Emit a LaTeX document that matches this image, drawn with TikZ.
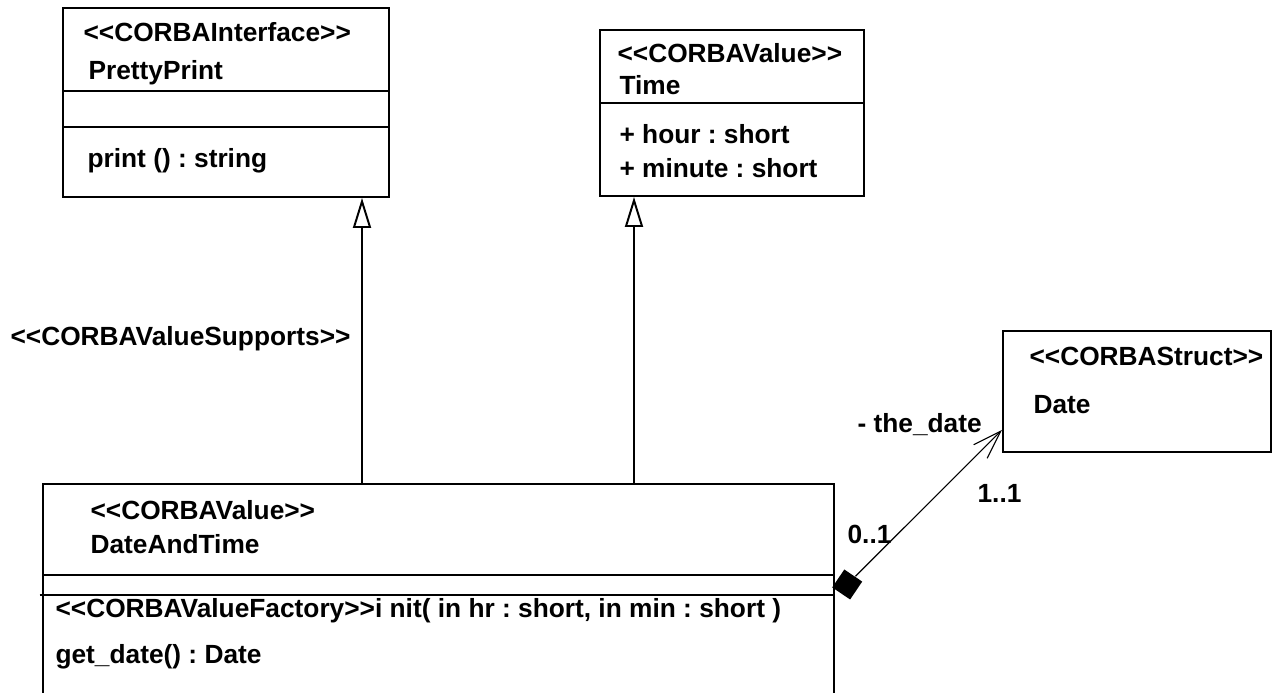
\documentclass[tikz,border=0pt]{standalone}
\usepackage{fontspec}
\newfontfamily\umlfont{Liberation Sans}
\usetikzlibrary{arrows.meta, positioning}
\frenchspacing

\begin{document}
\begin{tikzpicture}[
    cls/.style={draw, rectangle, line width=0.7pt, inner sep=0pt, fill=white},
    sep/.style={line width=0.7pt},
    txt/.style={anchor=base west, inner sep=0pt, font=\umlfont\bfseries\fontsize{9.35pt}{11pt}\selectfont},
    gen/.style={line width=0.7pt, -{Triangle[open, length=0.375cm, width=0.225cm, fill=white]}},
    comp/.style={rectangle, fill=black, inner sep=0pt, minimum size=0.27cm, rotate=-34},
    assoc/.style={thin, -{Straight Barb[length=0.36cm, width=0.24cm]}},
]
\useasboundingbox (0,0) rectangle (16,8.65);

% Class boxes
\node[cls, minimum width=4.075cm, minimum height=2.3625cm] (PP) at (2.825,7.36875) {};
\node[cls, minimum width=3.3cm, minimum height=2.075cm] (TV) at (9.15,7.2375) {};
\node[cls, minimum width=3.35cm, minimum height=1.5125cm] (DS) at (14.2125,3.75625) {};
\node[cls, minimum width=9.8875cm, minimum height=2.625cm] (DT) at (5.48125,1.2875) {};

% Compartments
\draw[sep] ([yshift=-1.05cm]PP.north west) -- ([yshift=-1.05cm]PP.north east);
\draw[sep] ([yshift=-1.5cm]PP.north west) -- ([yshift=-1.5cm]PP.north east);
\draw[sep] ([yshift=-0.925cm]TV.north west) -- ([yshift=-0.925cm]TV.north east);
\draw[sep] ([yshift=-1.15cm]DT.north west) -- ([yshift=-1.15cm]DT.north east);
\draw[sep] ([xshift=-0.03cm,yshift=-1.4cm]DT.north west) -- ([yshift=-1.4cm]DT.north east);

% PrettyPrint
\node[txt] (PPst) at (1.0375,8.1375) {<<CORBAInterface>>};
\node[txt] (PPname) at (1.1,7.6625) {PrettyPrint};
\node[txt] (PPop) at (1.0875,6.5625) {print () : string};

% Time
\node[txt] (TVst) at (7.7125,7.875) {<<CORBAValue>>};
\node[txt] (TVname) at (7.7375,7.475) {Time};
\node[txt] (TVa1) at (7.7375,6.8625) {+ hour : short};
\node[txt] (TVa2) at (7.7375,6.4375) {+ minute : short};

% Date
\node[txt] (DSst) at (12.8625,4.0875) {<<CORBAStruct>>};
\node[txt] (DSname) at (12.9125,3.4875) {Date};

% DateAndTime
\node[txt] (DTst) at (1.125,2.1625) {<<CORBAValue>>};
\node[txt] (DTname) at (1.125,1.7375) {DateAndTime};
\node[txt] (DTop1) at (0.6875,0.9375) {<<CORBAValueFactory>>i nit( in hr : short, in min : short )};
\node[txt] (DTop2) at (0.6875,0.3625) {get\_date() : Date};

% Generalizations
\coordinate (g1) at (4.525,0);
\coordinate (g2) at (7.925,0);
\draw[gen] (g1 |- DT.north) -- (g1 |- PP.south);
\draw[gen] (g2 |- DT.north) -- (g2 |- TV.south);
\node[txt] (supp) at (0.125,4.3375) {<<CORBAValueSupports>>};

% Composition DateAndTime -> Date
\node[comp] (cmp) at (10.59,1.344) {};
\draw[assoc] (cmp) -- ([yshift=-0.48cm]DS.west);
\node[txt] (role) at (10.7125,3.25) {- the\_date};
\node[txt] (mtgt) at (12.2125,2.375) {1..1};
\node[txt] (msrc) at (10.5875,1.8625) {0..1};

\end{tikzpicture}
\end{document}
